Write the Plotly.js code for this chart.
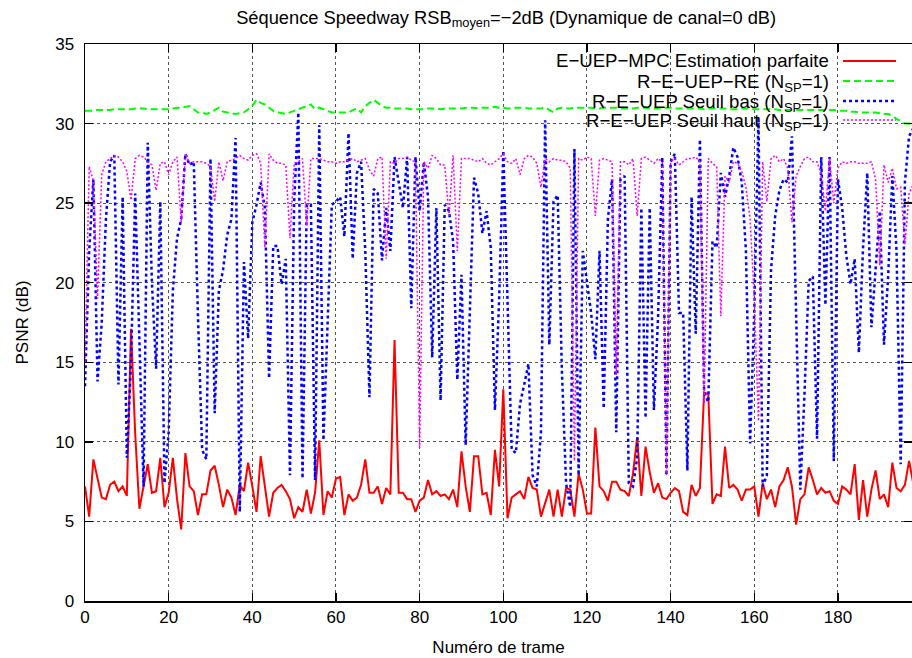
<!DOCTYPE html>
<html><head><meta charset="utf-8">
<script src="https://cdn.plot.ly/plotly-3.0.1.min.js"></script>
<style>body{margin:0;background:#fff}#c{width:912px;height:658px}</style>
</head><body><div id="c"></div>
<script>
// PSNR (dB) per frame
const red = [
7.2,5.3,8.9,7.8,6.5,6.4,7.3,7.5,6.9,7.2,
6.6,17.1,10.5,5.8,7.2,8.6,6.8,6.9,9.0,5.9,
6.8,9.0,6.4,4.5,9.3,7.2,6.9,5.4,6.7,6.7,
8.2,8.5,7.3,5.9,7.0,6.5,5.4,7.3,6.9,8.7,
7.2,5.6,9.1,7.2,5.3,6.8,7.1,7.3,6.9,6.4,
5.2,5.9,5.6,7.0,5.5,6.8,10.1,5.4,6.9,6.5,
7.7,7.8,5.4,6.7,6.3,6.5,7.3,8.9,6.8,6.8,
7.2,6.1,7.1,6.7,16.4,6.8,6.8,6.4,6.4,5.6,
6.3,6.5,7.6,6.7,6.9,6.6,6.7,6.4,7.0,5.9,
9.4,7.2,5.6,9.1,9.1,6.7,6.8,5.4,9.5,7.2,
13.3,5.2,6.5,6.7,6.9,6.4,7.8,7.1,7.0,5.3,
6.2,7.0,5.3,7.0,5.3,7.1,7.0,5.3,8.0,7.0,
5.5,5.5,10.9,7.2,6.9,6.3,7.5,7.5,7.0,6.9,
6.6,8.0,10.3,6.6,9.7,8.1,6.8,7.4,6.5,6.4,
6.8,7.1,6.9,5.6,5.4,7.3,6.6,7.1,13.1,13.0,
6.1,6.7,6.6,9.7,7.1,7.3,7.0,6.3,7.0,7.0,
7.2,5.3,7.4,6.4,7.0,5.9,7.2,7.6,8.4,7.2,
4.8,6.4,6.7,8.4,7.6,6.7,7.1,6.8,6.9,6.3,
6.1,7.2,7.0,6.7,8.6,5.1,7.6,5.3,7.0,8.2,
6.4,6.7,5.9,8.7,7.1,6.9,7.3,8.8,7.4];

const green = [
30.8,30.8,30.8,30.85,30.85,30.85,30.85,30.9,30.9,30.9,
30.9,30.9,30.95,30.95,30.95,30.9,30.9,30.9,30.9,30.9,
30.9,30.95,31.0,31.0,31.05,31.1,30.9,30.7,30.7,30.6,
30.7,30.85,31.0,30.75,30.7,30.65,30.6,30.65,30.7,30.9,
31.1,31.5,31.3,31.2,31.0,30.8,30.7,30.65,30.6,30.7,
30.8,30.9,31.0,31.1,31.2,30.9,31.0,30.9,30.8,30.7,
30.7,30.7,30.7,30.7,30.85,30.95,30.7,31.1,31.3,31.5,
31.3,31.1,31.0,31.0,30.95,30.95,30.95,30.95,30.9,30.9,
30.9,30.9,30.95,30.95,30.95,30.9,30.95,30.95,30.95,30.95,
30.95,31.0,31.0,31.0,30.95,31.0,31.0,31.0,31.05,31.0,
31.0,30.95,30.95,31.0,31.0,31.0,30.95,30.95,30.95,30.95,
31.0,30.85,30.7,30.95,31.0,30.95,30.95,31.0,31.0,31.0,
31.0,31.0,30.95,30.95,31.0,31.0,31.0,31.0,30.95,30.95,
30.95,30.95,31.0,31.0,31.0,30.95,30.95,30.95,31.0,31.0,
31.0,30.95,30.95,30.95,30.95,30.95,30.95,30.95,30.9,30.95,
30.95,30.95,30.95,30.95,30.9,30.9,30.9,30.95,30.95,30.95,
30.9,30.9,30.9,30.9,30.9,30.9,30.85,30.85,30.85,30.85,
30.85,30.85,30.85,30.85,30.85,30.85,30.85,30.85,30.85,30.85,
30.8,30.8,30.8,30.75,30.75,30.7,30.7,30.7,30.7,30.7,
30.65,30.6,30.6,30.5,30.3,30.15,30.0,30.0,29.9];

const blue = [
13.5,22.0,26.5,13.8,17.5,24.0,27.6,28.0,13.6,25.4,
9.0,15.0,25.6,17.0,7.2,28.8,20.0,14.6,25.1,7.4,
10.6,19.5,22.8,24.0,28.1,27.4,27.6,18.0,9.5,8.9,
27.8,11.8,19.5,20.8,23.0,24.0,29.1,5.6,21.3,16.5,
23.8,24.9,26.3,24.7,14.0,22.3,22.3,19.9,21.5,7.9,
25.1,30.7,7.7,24.9,24.9,7.6,29.9,10.1,17.5,24.9,
25.1,25.4,22.9,29.4,21.5,26.9,27.6,22.0,12.8,25.9,
25.6,21.4,24.7,22.0,27.9,26.3,24.7,27.9,18.4,27.9,
24.5,27.6,25.4,15.3,24.7,12.6,24.9,24.5,22.6,13.9,
20.5,9.8,18.8,26.6,25.6,23.1,24.5,22.2,12.0,19.0,
28.3,18.0,9.5,9.3,12.4,13.6,14.9,7.9,7.2,10.6,
30.2,16.1,25.1,25.5,14.5,7.4,5.9,28.4,7.9,22.0,
19.9,18.1,15.2,22.0,12.1,24.0,26.5,10.6,26.5,26.7,
7.4,7.2,9.0,24.7,11.5,24.7,12.0,17.9,27.9,7.9,
27.6,28.1,18.1,18.1,8.2,25.4,16.8,29.0,13.1,12.5,
22.6,22.2,26.9,25.4,26.7,28.5,27.9,26.3,22.0,9.9,
18.3,30.4,7.2,7.9,20.8,24.2,25.8,26.5,26.3,29.2,
18.0,7.0,13.0,20.1,20.4,10.2,27.9,18.6,27.9,8.8,
26.5,24.7,21.7,19.9,21.5,15.6,22.2,26.9,17.2,21.1,
24.5,16.1,20.4,26.7,22.0,8.6,26.3,29.2,29.7];

const magenta = [
15.0,27.3,26.4,19.0,26.8,27.6,27.8,28.0,27.9,27.6,
27.0,25.2,27.8,28.0,27.9,27.6,27.4,25.8,27.5,27.6,
26.8,27.6,27.9,23.8,28.1,27.5,27.6,27.6,27.6,27.5,
27.3,25.1,27.6,26.4,27.6,27.7,27.8,28.0,27.8,27.7,
28.0,28.1,27.5,22.2,28.1,27.7,27.5,27.5,27.4,22.8,
27.5,27.6,27.8,23.6,27.8,27.8,27.8,27.7,27.6,27.6,
27.5,27.6,27.6,27.7,27.8,27.6,27.7,27.8,27.1,26.7,
27.8,27.9,21.5,27.6,27.5,27.8,27.8,27.9,27.7,27.6,
9.6,27.6,27.2,28.0,27.8,27.4,27.4,24.2,28.0,22.0,
27.8,27.8,27.8,27.7,27.6,27.8,27.5,27.4,27.6,27.8,
28.1,27.6,27.5,27.8,26.8,27.8,28.0,27.9,27.5,26.0,
27.8,27.6,27.8,27.7,27.7,27.6,27.2,8.8,27.8,27.7,
27.9,27.8,24.2,27.7,27.8,27.7,27.6,14.2,27.6,27.6,
27.4,27.8,24.2,27.8,27.9,27.7,27.5,27.8,27.6,7.9,
27.6,27.8,27.4,27.6,27.8,27.8,27.9,27.6,12.4,27.8,
27.5,27.3,17.9,26.7,26.3,27.6,27.5,27.0,26.0,24.0,
19.0,11.3,27.6,25.1,27.8,28.0,27.6,27.8,27.2,23.8,
26.7,27.3,27.8,27.9,27.6,27.6,26.8,24.5,27.8,25.0,
27.2,27.6,27.5,27.6,27.6,27.5,27.5,27.5,27.6,26.5,
21.1,27.4,26.3,27.2,25.9,26.0,22.4,25.6,26.2];

const names = [
  'E\u2212UEP\u2212MPC Estimation parfaite',
  'R\u2212E\u2212UEP\u2212RE (N<sub>SP</sub>=1)',
  'R\u2212E\u2212UEP Seuil bas (N<sub>SP</sub>=1)',
  'R\u2212E\u2212UEP Seuil haut (N<sub>SP</sub>=1)'
];
const xTicks = [0,20,40,60,80,100,120,140,160,180];
const yTicks = [0,5,10,15,20,25,30,35];

const colors = ['#ff0000','#00ff00','#0000ff','#ff00ff'];
const lineStyles = [
  {width:2, dash:'solid'},
  {width:2, dash:'7px,4px'},
  {width:2.5, dash:'3px,3px'},
  {width:1.5, dash:'2px,2px'}
];
const series = [red, green, blue, magenta];
const frames = red.map((_, i) => i);

const traces = series.map((s, k) => ({
  x: frames, y: s, type: 'scatter', mode: 'lines', name: names[k],
  line: {color: colors[k], width: lineStyles[k].width, dash: lineStyles[k].dash},
  showlegend: false, hoverinfo: 'skip'
}));

// gnuplot-style key: right-aligned text, sample line on the right
const keyLineY = [0.9695, 0.9336, 0.8977, 0.8636];
const keyTextY = [0.9695, 0.930, 0.894, 0.860];
const shapes = [], annotations = [];
series.forEach((s, k) => {
  shapes.push({type:'line', xref:'paper', yref:'paper', x0:0.9166, x1:0.9807, y0:keyLineY[k], y1:keyLineY[k],
    line:{color:colors[k], width:lineStyles[k].width, dash:lineStyles[k].dash}});
  annotations.push({xref:'paper', yref:'paper', x:0.902, y:keyTextY[k], xanchor:'right', yanchor:'middle',
    text:names[k], showarrow:false, font:{size:18.6, color:'#000'}});
});

const axisCommon = {
  ticks:'inside', ticklen:8, tickwidth:1.5, tickcolor:'#000',
  showline:true, linecolor:'#000', linewidth:1.5, mirror:'ticks',
  showgrid:true, gridcolor:'#555', griddash:'dot', gridwidth:1,
  zeroline:false, tickfont:{size:17, color:'#000'}
};

const layout = {
  width:912, height:658,
  margin:{l:85, r:0, t:44, b:57},
  paper_bgcolor:'#fff', plot_bgcolor:'#fff',
  font:{family:'"Liberation Sans", Arial, sans-serif', size:17, color:'#000'},
  title:{text:'Séquence Speedway RSB<sub>moyen</sub>=\u22122dB (Dynamique de canal=0 dB)',
    x:0.555, xanchor:'center', y:0.974, yanchor:'middle', font:{size:18.3, color:'#000'}},
  xaxis: Object.assign({}, axisCommon, {range:[0,197.7], tickvals:xTicks, ticktext:xTicks.map(String),
    title:{text:'Numéro de trame', standoff:15, font:{size:17}}, ticklabelstandoff:0}),
  yaxis: Object.assign({}, axisCommon, {range:[0,35], tickvals:yTicks, ticktext:yTicks.map(String),
    title:{text:'PSNR (dB)', standoff:22, font:{size:17}}, ticklabelstandoff:6}),
  shapes: shapes, annotations: annotations
};

Plotly.newPlot('c', traces, layout, {displayModeBar:false, staticPlot:true});
</script>
</body></html>
